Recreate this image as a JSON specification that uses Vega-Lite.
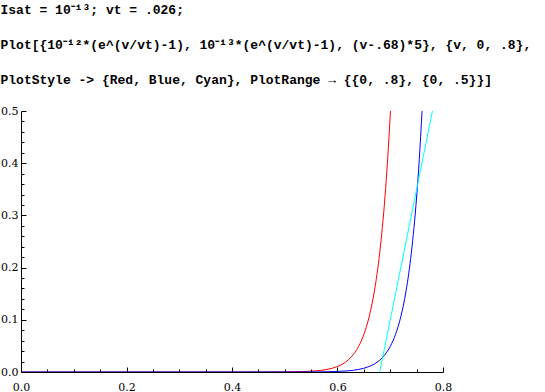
{
  "$schema": "https://vega.github.io/schema/vega-lite/v6.json",
  "width": 422,
  "height": 261,
  "padding": {"left": 0, "top": 4, "right": 0, "bottom": 0},
  "background": "white",
  "title": {
    "text": ["Isat = 10⁻¹³; vt = .026;", "Plot[{10⁻¹²*(e^(v/vt)-1), 10⁻¹³*(e^(v/vt)-1), (v-.68)*5}, {v, 0, .8},", "\u2007PlotStyle -> {Red, Blue, Cyan}, PlotRange → {{0, .8}, {0, .5}}]"],
    "anchor": "start",
    "frame": "bounds",
    "font": "Liberation Mono",
    "fontSize": 13,
    "fontWeight": "bold",
    "color": "black",
    "lineHeight": 35,
    "offset": 18
  },
  "config": {
    "view": {"stroke": null},
    "axis": {
      "grid": false,
      "domainColor": "black",
      "domainWidth": 1,
      "labelColor": "black",
      "labelFont": "DejaVu Serif",
      "labelFontSize": 11,
      "labelFlush": false,
      "labelOverlap": false,
      "title": null
    }
  },
  "data": {
    "values": [
      {"v": 0, "y": 0, "s": "Red"},
      {"v": 0.3, "y": 0.0000001, "s": "Red"},
      {"v": 0.4, "y": 0.0000048, "s": "Red"},
      {"v": 0.45, "y": 0.000033, "s": "Red"},
      {"v": 0.5, "y": 0.000225, "s": "Red"},
      {"v": 0.52, "y": 0.000485, "s": "Red"},
      {"v": 0.54, "y": 0.00105, "s": "Red"},
      {"v": 0.56, "y": 0.00226, "s": "Red"},
      {"v": 0.58, "y": 0.00488, "s": "Red"},
      {"v": 0.6, "y": 0.01053, "s": "Red"},
      {"v": 0.61, "y": 0.01547, "s": "Red"},
      {"v": 0.62, "y": 0.02272, "s": "Red"},
      {"v": 0.63, "y": 0.03337, "s": "Red"},
      {"v": 0.64, "y": 0.049, "s": "Red"},
      {"v": 0.65, "y": 0.072, "s": "Red"},
      {"v": 0.66, "y": 0.1058, "s": "Red"},
      {"v": 0.67, "y": 0.1554, "s": "Red"},
      {"v": 0.675, "y": 0.1884, "s": "Red"},
      {"v": 0.68, "y": 0.2283, "s": "Red"},
      {"v": 0.685, "y": 0.2767, "s": "Red"},
      {"v": 0.69, "y": 0.3353, "s": "Red"},
      {"v": 0.695, "y": 0.4066, "s": "Red"},
      {"v": 0.7004, "y": 0.5, "s": "Red"},
      {"v": 0, "y": 0, "s": "Blue"},
      {"v": 0.36, "y": 0.0000001, "s": "Blue"},
      {"v": 0.46, "y": 0.0000048, "s": "Blue"},
      {"v": 0.51, "y": 0.000033, "s": "Blue"},
      {"v": 0.56, "y": 0.000225, "s": "Blue"},
      {"v": 0.58, "y": 0.000485, "s": "Blue"},
      {"v": 0.6, "y": 0.00105, "s": "Blue"},
      {"v": 0.62, "y": 0.00226, "s": "Blue"},
      {"v": 0.64, "y": 0.00488, "s": "Blue"},
      {"v": 0.66, "y": 0.01053, "s": "Blue"},
      {"v": 0.67, "y": 0.01547, "s": "Blue"},
      {"v": 0.68, "y": 0.02272, "s": "Blue"},
      {"v": 0.69, "y": 0.03337, "s": "Blue"},
      {"v": 0.7, "y": 0.049, "s": "Blue"},
      {"v": 0.71, "y": 0.072, "s": "Blue"},
      {"v": 0.72, "y": 0.1058, "s": "Blue"},
      {"v": 0.73, "y": 0.1554, "s": "Blue"},
      {"v": 0.735, "y": 0.1884, "s": "Blue"},
      {"v": 0.74, "y": 0.2283, "s": "Blue"},
      {"v": 0.745, "y": 0.2767, "s": "Blue"},
      {"v": 0.75, "y": 0.3353, "s": "Blue"},
      {"v": 0.755, "y": 0.4066, "s": "Blue"},
      {"v": 0.7603, "y": 0.5, "s": "Blue"},
      {"v": 0.68, "y": 0, "s": "Cyan"},
      {"v": 0.78, "y": 0.5, "s": "Cyan"}
    ]
  },
  "layer": [
    {
      "mark": {"type": "line", "strokeWidth": 1, "clip": true, "interpolate": "monotone"},
      "encoding": {
        "x": {
          "field": "v", "type": "quantitative",
          "scale": {"domain": [0, 0.8], "nice": false, "zero": false},
          "axis": {"orient": "bottom", "values": [0, 0.2, 0.4, 0.6, 0.8], "format": ".1f", "ticks": false, "labelPadding": 9, "zindex": 1}
        },
        "y": {
          "field": "y", "type": "quantitative",
          "scale": {"domain": [0, 0.5], "nice": false, "zero": false},
          "axis": {"orient": "left", "values": [0, 0.1, 0.2, 0.3, 0.4, 0.5], "format": ".1f", "ticks": false, "labelPadding": 3, "zindex": 1}
        },
        "color": {
          "field": "s", "type": "nominal",
          "scale": {"domain": ["Red", "Blue", "Cyan"], "range": ["#ff0000", "#0000ff", "#00ffff"]},
          "legend": null
        }
      }
    },
    {
      "mark": {"type": "line", "opacity": 0},
      "encoding": {
        "x": {
          "field": "v", "type": "quantitative",
          "axis": {"orient": "top", "offset": -261, "values": [0, 0.2, 0.4, 0.6, 0.8], "tickSize": 5, "tickColor": "black", "tickWidth": 1, "labels": false, "domain": false, "zindex": 1}
        },
        "y": {
          "field": "y", "type": "quantitative",
          "axis": {"orient": "right", "offset": -422, "values": [0, 0.1, 0.2, 0.3, 0.4, 0.5], "tickSize": 5, "tickColor": "black", "tickWidth": 1, "labels": false, "domain": false, "zindex": 1}
        },
        "detail": {"field": "s", "type": "nominal"}
      }
    },
    {
      "mark": {"type": "line", "opacity": 0},
      "encoding": {
        "x": {
          "field": "v", "type": "quantitative",
          "axis": {"orient": "top", "offset": -261, "values": [0.05, 0.1, 0.15, 0.25, 0.3, 0.35, 0.45, 0.5, 0.55, 0.65, 0.7, 0.75], "tickSize": 3, "tickColor": "black", "tickWidth": 1, "labels": false, "domain": false, "zindex": 1}
        },
        "y": {
          "field": "y", "type": "quantitative",
          "axis": {"orient": "right", "offset": -422, "values": [0.02, 0.04, 0.06, 0.08, 0.12, 0.14, 0.16, 0.18, 0.22, 0.24, 0.26, 0.28, 0.32, 0.34, 0.36, 0.38, 0.42, 0.44, 0.46, 0.48], "tickSize": 3, "tickColor": "black", "tickWidth": 1, "labels": false, "domain": false, "zindex": 1}
        },
        "detail": {"field": "s", "type": "nominal"}
      }
    }
  ],
  "resolve": {"axis": {"x": "independent", "y": "independent"}}
}
